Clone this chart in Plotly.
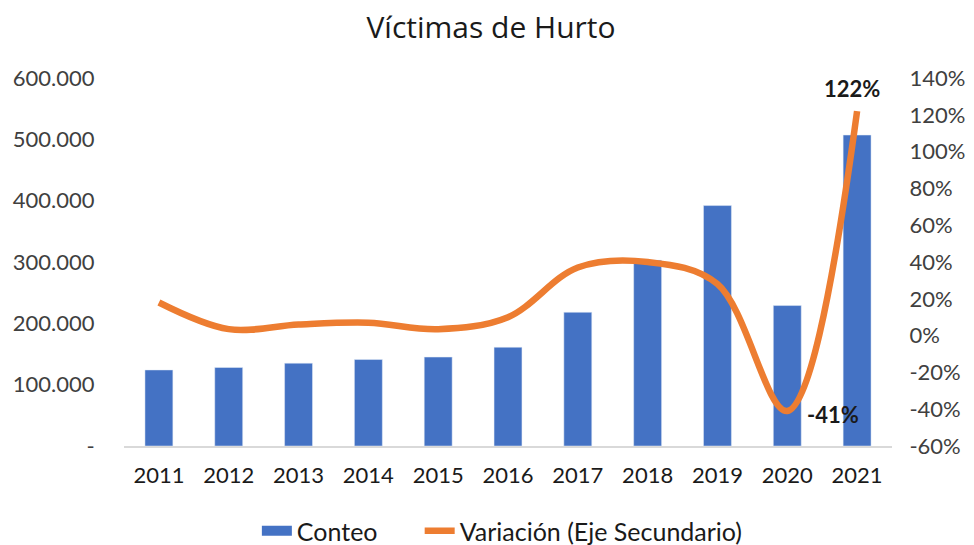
import plotly.graph_objects as go

years = ["2011", "2012", "2013", "2014", "2015", "2016", "2017", "2018", "2019", "2020", "2021"]
conteo = [124000, 128000, 135000, 141000, 145000, 161000, 218000, 303000, 392000, 229000, 507000]
variacion = [0.18, 0.035, 0.06, 0.07, 0.035, 0.10, 0.37, 0.40, 0.28, -0.41, 1.22]
labelled = {"2021": "122%", "2020": "-41%"}

left_ticks = [0, 100000, 200000, 300000, 400000, 500000, 600000]
left_labels = ["-", "100.000", "200.000", "300.000", "400.000", "500.000", "600.000"]
right_ticks = [-0.6, -0.4, -0.2, 0, 0.2, 0.4, 0.6, 0.8, 1.0, 1.2, 1.4]
right_labels = ["-60%", "-40%", "-20%", "0%", "20%", "40%", "60%", "80%", "100%", "120%", "140%"]

FONT = "Lato, 'Open Sans', sans-serif"
TITLE_FONT = "'Open Sans', 'Noto Sans', sans-serif"
TXT = "#404040"
DARK = "#1a1a1a"
BLUE = "#4472C4"
ORANGE = "#ED7D31"

fig = go.Figure()
fig.add_trace(go.Bar(x=years, y=conteo, name="Conteo", marker_color=BLUE, yaxis="y",
                     showlegend=False, legendgroup="c"))
# legend swatch for the bars (wide rectangle like the original)
fig.add_trace(go.Scatter(x=[years[0]], y=[None], name="Conteo", mode="lines",
                         line=dict(color=BLUE, width=12), legendgroup="c", yaxis="y",
                         legend="legend"))
fig.add_trace(go.Scatter(x=years, y=variacion, name="Variación (Eje Secundario)", mode="lines",
                         line=dict(color=ORANGE, width=6.5, shape="spline", smoothing=1.0), yaxis="y2",
                         legend="legend2"))

shifts = {"2021": (-5, 23), "2020": (46, -3)}
for yr, txt in labelled.items():
    i = years.index(yr)
    fig.add_annotation(x=i, y=variacion[i], xref="x", yref="y2", text="<b>" + txt + "</b>",
                       showarrow=False, xshift=shifts[yr][0], yshift=shifts[yr][1],
                       font=dict(size=22, color=DARK, family=FONT))

leg_common = dict(orientation="h", y=-0.231, yanchor="middle", xanchor="left",
                  font=dict(size=25, color=DARK), bgcolor="rgba(0,0,0,0)")

fig.update_layout(
    width=966, height=537,
    margin=dict(l=116, r=82, t=70, b=99, autoexpand=False),
    paper_bgcolor="white", plot_bgcolor="white",
    font=dict(family=FONT, size=22, color=TXT),
    title=dict(text="Víctimas de Hurto", x=0.5, xanchor="center", y=0.9646, yanchor="middle",
               font=dict(size=30, color=DARK, family=TITLE_FONT)),
    bargap=0.6,
    showlegend=True,
    legend=dict(x=0.173, **leg_common),
    legend2=dict(x=0.385, **leg_common),
    xaxis=dict(type="category", range=[-0.5, 10.5], autorange=False, showgrid=False,
               showline=True, linecolor="#d9d9d9", linewidth=2,
               tickfont=dict(size=22, color=DARK), ticks="outside", ticklen=9,
               tickcolor="rgba(0,0,0,0)", automargin=False),
    yaxis=dict(range=[0, 600000], tickvals=left_ticks, ticktext=left_labels, showgrid=False,
               zeroline=False, showline=False, ticks="outside", ticklen=24,
               tickcolor="rgba(0,0,0,0)", automargin=False,
               tickfont=dict(size=22, color=TXT)),
    yaxis2=dict(range=[-0.6, 1.4], tickvals=right_ticks, ticktext=right_labels, overlaying="y",
                side="right", showgrid=False, zeroline=False, showline=False, ticks="outside",
                ticklen=12, tickcolor="rgba(0,0,0,0)", automargin=False,
                tickfont=dict(size=22, color=TXT)),
)

fig.write_html("out.html")
